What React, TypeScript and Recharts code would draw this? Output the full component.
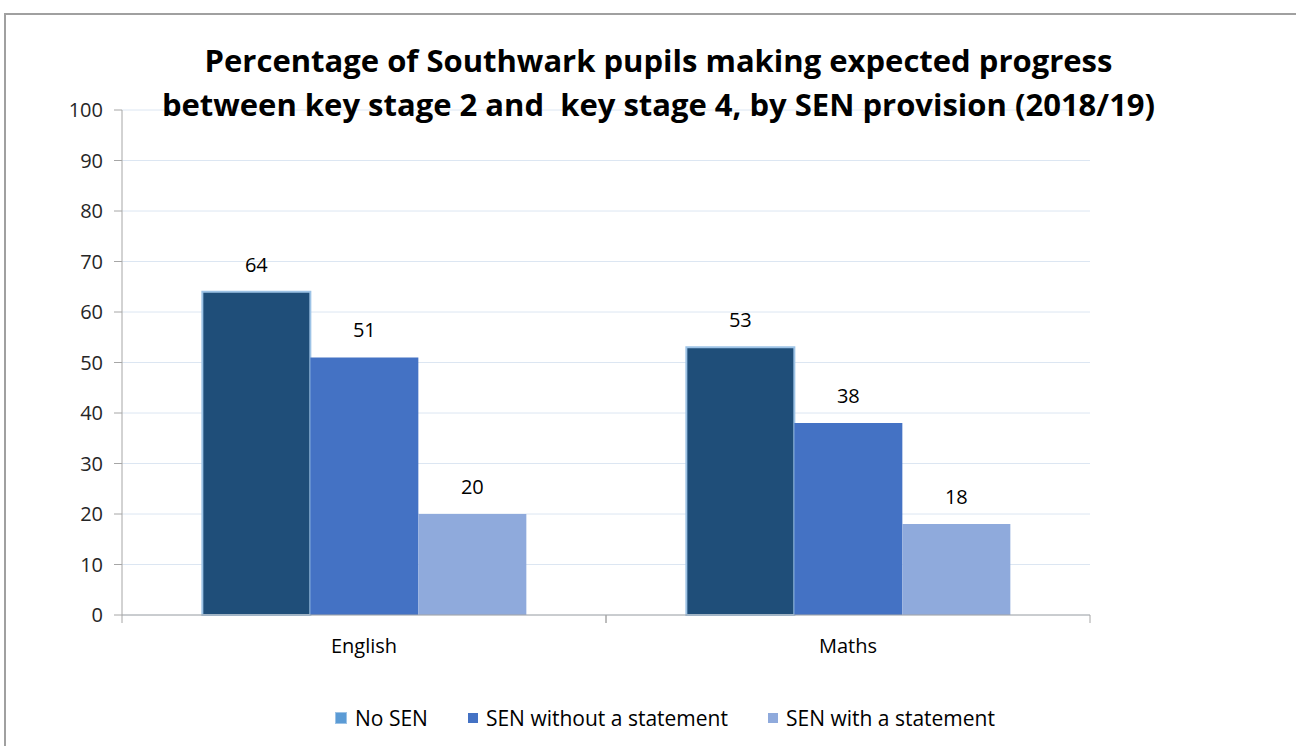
import React from 'react';
import { BarChart, Bar, XAxis, YAxis, CartesianGrid, Legend, LabelList } from 'recharts';

const categories = ['English', 'Maths'];
const noSen = [64, 53];
const senWithout = [51, 38];
const senWith = [20, 18];
const yTicks = [0, 10, 20, 30, 40, 50, 60, 70, 80, 90, 100];
const seriesNames = ['No SEN', 'SEN without a statement', 'SEN with a statement'];

const data = categories.map((c, i) => ({
  name: c,
  noSen: noSen[i],
  senWithout: senWithout[i],
  senWith: senWith[i],
}));

const FONT = '"Open Sans", "Noto Sans", sans-serif';

const legendColors = ['#5b9bd5', '#4472c4', '#8faadc'];

const CustomLegend = () => (
  <div style={{ display: 'flex', justifyContent: 'center', alignItems: 'center', fontFamily: FONT, fontSize: 21, color: '#000', paddingLeft: 34 }}>
    {seriesNames.map((n, i) => (
      <div key={n} style={{ display: 'flex', alignItems: 'center', marginRight: i < 2 ? 40 : 0 }}>
        <div style={{ width: 10, height: 10, background: legendColors[i], border: i === 0 ? '1px solid #9dc3e6' : 'none', marginRight: 8 }} />
        <span>{n}</span>
      </div>
    ))}
  </div>
);

const XTick = (props: any) => {
  const { x, y, payload } = props;
  const off = payload && payload.offset ? payload.offset : 0;
  return (
    <g>
      <line x1={x - off} x2={x - off} y1={y - 8} y2={y} stroke="#a6a6a6" strokeWidth={1} />
      <line x1={x + off} x2={x + off} y1={y - 8} y2={y} stroke="#a6a6a6" strokeWidth={1} />
      <text x={x} y={y + 30} textAnchor="middle" fontFamily={FONT} fontSize={20} fill="#000">{payload.value}</text>
    </g>
  );
};

const labelStyle = { fontFamily: FONT, fontSize: 20, fill: '#000' };

export default function App() {
  return (
    <div style={{ position: 'absolute', left: 0, top: 0, width: 1296, height: 746, background: '#fff', overflow: 'hidden' }}>
      <div style={{ position: 'absolute', left: 4, top: 13, width: 1300, height: 740, borderLeft: '2px solid #a0a0a0', borderTop: '2px solid #a0a0a0' }} />
      <BarChart
        width={1296}
        height={746}
        data={data}
        margin={{ top: 110, right: 206, left: 10, bottom: 12 }}
        barGap={0}
        barCategoryGap="16.6%"
      >
        <CartesianGrid vertical={false} stroke="#dce6f2" strokeWidth={1} />
        <XAxis
          dataKey="name"
          axisLine={{ stroke: '#a6a6a6' }}
          tickLine={false}
          tick={<XTick />}
          height={89}
          interval={0}
        />
        <YAxis
          domain={[0, 100]}
          ticks={yTicks}
          width={112}
          axisLine={{ stroke: '#a6a6a6' }}
          tickLine={{ stroke: '#a6a6a6' }}
          tickSize={8}
          tickMargin={11}
          tick={{ fontFamily: FONT, fontSize: 20, fill: '#262626' }}
          interval={0}
        />
        <Legend verticalAlign="bottom" content={<CustomLegend />} wrapperStyle={{ height: 30, left: 0, width: 1296 }} />
        <Bar dataKey="noSen" name={seriesNames[0]} fill="#1f4e79" stroke="#9dc3e6" strokeWidth={2} isAnimationActive={false}>
          <LabelList dataKey="noSen" position="top" offset={20} style={labelStyle} />
        </Bar>
        <Bar dataKey="senWithout" name={seriesNames[1]} fill="#4472c4" isAnimationActive={false}>
          <LabelList dataKey="senWithout" position="top" offset={20} style={labelStyle} />
        </Bar>
        <Bar dataKey="senWith" name={seriesNames[2]} fill="#8faadc" isAnimationActive={false}>
          <LabelList dataKey="senWith" position="top" offset={20} style={labelStyle} />
        </Bar>
      </BarChart>
      <div style={{ position: 'absolute', left: 0, top: 38, width: 1317, textAlign: 'center', fontFamily: FONT, fontWeight: 700, fontSize: 31, lineHeight: '44px', color: '#000' }}>
        Percentage of Southwark pupils making expected progress<br />
        between key stage 2 and&nbsp; key stage 4, by SEN provision (2018/19)
      </div>
    </div>
  );
}
